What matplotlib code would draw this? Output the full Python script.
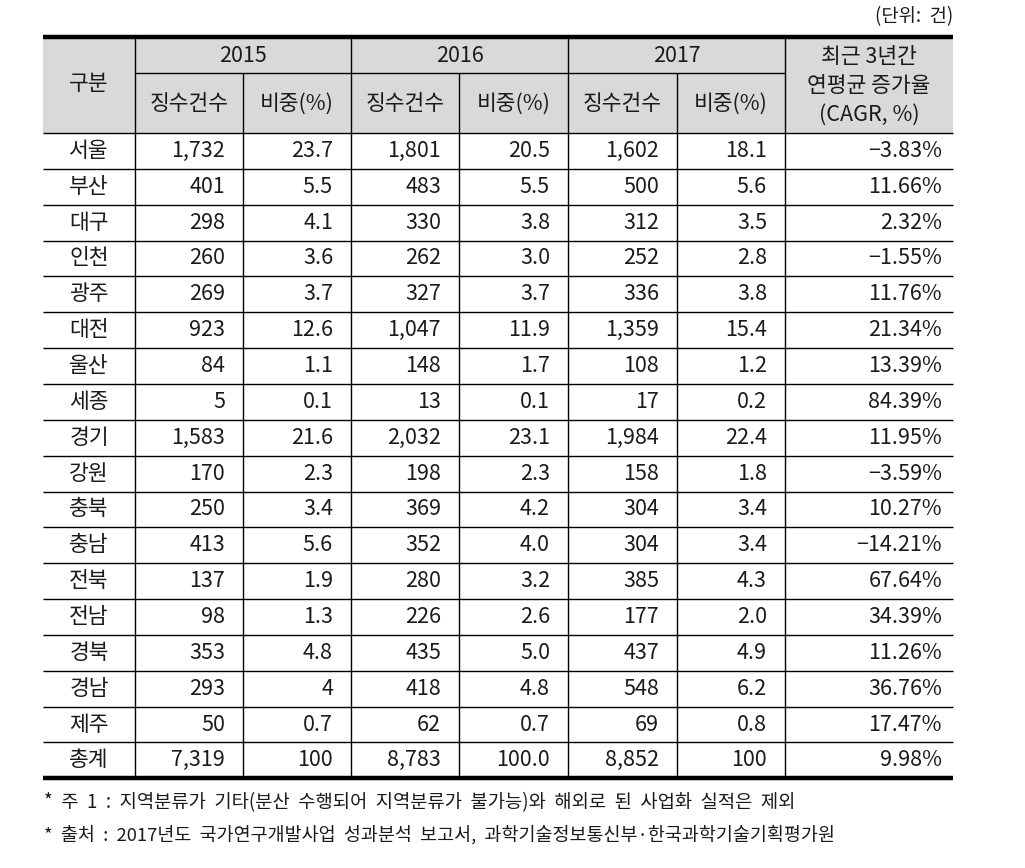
import matplotlib.pyplot as plt

plt.rcParams['font.family'] = ['Noto Sans CJK KR', 'DejaVu Sans']

# table data
regions = ['서울', '부산', '대구', '인천', '광주', '대전', '울산', '세종', '경기',
           '강원', '충북', '충남', '전북', '전남', '경북', '경남', '제주', '총계']
cnt_2015 = ['1,732', '401', '298', '260', '269', '923', '84', '5', '1,583',
            '170', '250', '413', '137', '98', '353', '293', '50', '7,319']
pct_2015 = ['23.7', '5.5', '4.1', '3.6', '3.7', '12.6', '1.1', '0.1', '21.6',
            '2.3', '3.4', '5.6', '1.9', '1.3', '4.8', '4', '0.7', '100']
cnt_2016 = ['1,801', '483', '330', '262', '327', '1,047', '148', '13', '2,032',
            '198', '369', '352', '280', '226', '435', '418', '62', '8,783']
pct_2016 = ['20.5', '5.5', '3.8', '3.0', '3.7', '11.9', '1.7', '0.1', '23.1',
            '2.3', '4.2', '4.0', '3.2', '2.6', '5.0', '4.8', '0.7', '100.0']
cnt_2017 = ['1,602', '500', '312', '252', '336', '1,359', '108', '17', '1,984',
            '158', '304', '304', '385', '177', '437', '548', '69', '8,852']
pct_2017 = ['18.1', '5.6', '3.5', '2.8', '3.8', '15.4', '1.2', '0.2', '22.4',
            '1.8', '3.4', '3.4', '4.3', '2.0', '4.9', '6.2', '0.8', '100']
cagr = ['−3.83%', '11.66%', '2.32%', '−1.55%', '11.76%', '21.34%', '13.39%', '84.39%',
        '11.95%', '−3.59%', '10.27%', '−14.21%', '67.64%', '34.39%', '11.26%',
        '36.76%', '17.47%', '9.98%']
years = ['2015', '2016', '2017']
sub_headers = ['징수건수', '비중(%)']
unit_text = '(단위:  건)'
notes = ['*  주  1  :  지역분류가  기타(분산  수행되어  지역분류가  불가능)와  해외로  된  사업화  실적은  제외',
         '*  출처  :  2017년도  국가연구개발사업  성과분석  보고서,  과학기술정보통신부·한국과학기술기획평가원']

W, H = 1025, 868
fig = plt.figure(figsize=(W / 100, H / 100), dpi=100)
ax = fig.add_axes([0, 0, 1, 1])
ax.set_xlim(0, W)
ax.set_ylim(H, 0)
ax.axis('off')

# layout in pixels
left, right = 43, 953
cols = [43, 135, 243, 351, 459, 568, 677, 785, 953]
top = 37
hdr_mid = 73
hdr_bot = 133
row_h = 35.85
bottom = hdr_bot + row_h * len(regions)
fs = 15.5
tc = '#1a1a1a'

# header background
ax.add_patch(plt.Rectangle((left, top), right - left, hdr_bot - top,
                           color='#d9d9d9', lw=0, zorder=0))

# horizontal lines
ax.hlines(top, left, right, color='black', lw=3.2, zorder=3)
ax.hlines(bottom, left, right, color='black', lw=3.2, zorder=3)
ax.hlines(hdr_mid, cols[1], cols[7], color='black', lw=1, zorder=2)
for i in range(len(regions)):
    ax.hlines(hdr_bot + row_h * i, left, right, color='black', lw=1, zorder=2)

# vertical lines
for x in [cols[1], cols[3], cols[5], cols[7]]:
    ax.vlines(x, top, bottom, color='black', lw=1, zorder=2)
for x in [cols[2], cols[4], cols[6]]:
    ax.vlines(x, hdr_mid, bottom, color='black', lw=1, zorder=2)

# header text
ax.text((cols[0] + cols[1]) / 2, (top + hdr_bot) / 2 - 1, '구분', ha='center',
        va='center', fontsize=fs, color=tc)
for k, yr in enumerate(years):
    c0 = cols[1 + 2 * k]
    c2 = cols[3 + 2 * k]
    ax.text((c0 + c2) / 2, (top + hdr_mid) / 2 + 1, yr, ha='center', va='center',
            fontsize=fs, color=tc)
    for j, sh in enumerate(sub_headers):
        a, b = cols[1 + 2 * k + j], cols[2 + 2 * k + j]
        ax.text((a + b) / 2, (hdr_mid + hdr_bot) / 2 + 1, sh, ha='center',
                va='center', fontsize=fs, color=tc)
ax.text((cols[7] + cols[8]) / 2, (top + hdr_bot) / 2 + 1,
        '최근 3년간\n연평균 증가율\n(CAGR, %)', ha='center', va='center',
        fontsize=fs, color=tc, linespacing=1.42)

# body
columns = [cnt_2015, pct_2015, cnt_2016, pct_2016, cnt_2017, pct_2017, cagr]
pads = [18, 18, 18, 18, 18, 18, 11]
for i, reg in enumerate(regions):
    yc = hdr_bot + row_h * (i + 0.5)
    ax.text((cols[0] + cols[1]) / 2, yc, reg, ha='center', va='center',
            fontsize=fs, color=tc)
    for j, col in enumerate(columns):
        ax.text(cols[j + 2] - pads[j], yc, col[i], ha='right', va='center',
                fontsize=fs, color=tc)

ax.text(right, 17, unit_text, ha='right', va='center', fontsize=13.5, color=tc)
ax.text(44, 803, notes[0], ha='left', va='center', fontsize=13.5, color=tc)
ax.text(44, 835, notes[1], ha='left', va='center', fontsize=13.3, color=tc)

fig.savefig('out.png', dpi=100)
